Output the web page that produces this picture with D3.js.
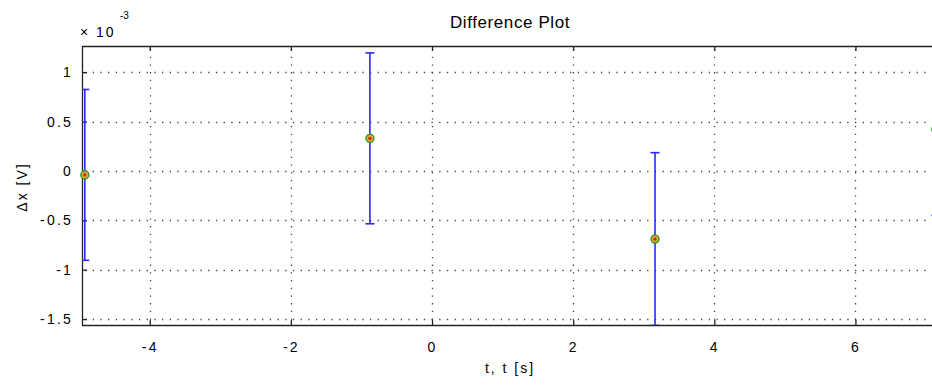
<!DOCTYPE html>
<html>
<head>
<meta charset="utf-8">
<script src="https://cdn.jsdelivr.net/npm/d3@7"></script>
<style>
  body { margin: 0; background: #fff; }
  svg text { font-family: "Liberation Sans", Arial, sans-serif; fill: #000; }
</style>
</head>
<body>
<div id="chart"></div>
<script>
// Difference plot data (y in units of 1e-3 V)
const tValues = [-4.92, -0.88, 3.16, 7.14];
const dxValues = [-0.04, 0.33, -0.69, 0.42];
const errValues = [0.865, 0.865, 0.875, 0.87];
const xTicks = [-4, -2, 0, 2, 4, 6];
const yTicks = [-1.5, -1, -0.5, 0, 0.5, 1];

const points = tValues.map((t, i) => ({ t: t, dx: dxValues[i], err: errValues[i] }));

const width = 932;
const height = 388;
const margin = { top: 46, right: -6, bottom: 63, left: 82 };
const plotW = width - margin.left - margin.right;
const plotH = height - margin.top - margin.bottom;
const font = "'Liberation Sans', Arial, sans-serif";

const svg = d3.select("#chart")
    .append("svg")
    .attr("width", width)
    .attr("height", height);

const xScale = d3.scaleLinear()
    .domain([-4.96, 7.17])
    .range([margin.left, margin.left + plotW]);

const yScale = d3.scaleLinear()
    .domain([-1.56, 1.265])
    .range([margin.top + plotH, margin.top]);

svg.append("defs").append("clipPath")
    .attr("id", "clip")
    .append("rect")
    .attr("x", margin.left)
    .attr("y", margin.top)
    .attr("width", plotW)
    .attr("height", plotH);

// grid
const grid = svg.append("g");
grid.selectAll("line.gx")
    .data(xTicks)
    .enter()
    .append("line")
    .attr("x1", d => Math.round(xScale(d)) + 0.5)
    .attr("x2", d => Math.round(xScale(d)) + 0.5)
    .attr("y1", margin.top + 3)
    .attr("y2", margin.top + plotH)
    .attr("stroke", "#444")
    .attr("stroke-width", 1.3)
    .attr("stroke-dasharray", "1.3,6.4");
grid.selectAll("line.gy")
    .data(yTicks)
    .enter()
    .append("line")
    .attr("y1", d => Math.round(yScale(d)) + 0.5)
    .attr("y2", d => Math.round(yScale(d)) + 0.5)
    .attr("x1", margin.left + 3)
    .attr("x2", margin.left + plotW)
    .attr("stroke", "#444")
    .attr("stroke-width", 1.3)
    .attr("stroke-dasharray", "1.3,6.4");

// axes (MATLAB style: ticks inward, on both sides)
const bottom = margin.top + plotH;
svg.append("g")
    .attr("transform", `translate(0, ${bottom})`)
    .call(d3.axisBottom(xScale).tickValues(xTicks).tickSize(-5).tickPadding(17).tickFormat(d3.format("d")))
    .call(g => g.select(".domain").remove());
svg.append("g")
    .attr("transform", `translate(0, ${margin.top})`)
    .call(d3.axisTop(xScale).tickValues(xTicks).tickSize(-5).tickFormat(""))
    .call(g => g.select(".domain").remove());
svg.append("g")
    .attr("transform", `translate(${margin.left}, 0)`)
    .call(d3.axisLeft(yScale).tickValues(yTicks).tickSize(-5).tickPadding(9).tickFormat(d => d3.format("")(d)))
    .call(g => g.select(".domain").remove());

svg.selectAll(".tick line").attr("stroke", "#222").attr("stroke-width", 1.3);
svg.selectAll(".tick text")
    .style("font-family", font)
    .style("font-size", "14px")
    .style("letter-spacing", "2.2px")
    .attr("fill", "#000")
    .text(function() { return d3.select(this).text().replace("−", "-"); });

svg.append("line")
    .attr("x1", margin.left).attr("x2", margin.left + plotW)
    .attr("y1", margin.top + 0.5).attr("y2", margin.top + 0.5)
    .attr("stroke", "#222").attr("stroke-width", 1.3);
svg.append("line")
    .attr("x1", margin.left).attr("x2", margin.left + plotW)
    .attr("y1", bottom + 0.5).attr("y2", bottom + 0.5)
    .attr("stroke", "#222").attr("stroke-width", 1.3);
svg.append("line")
    .attr("x1", margin.left + 0.5).attr("x2", margin.left + 0.5)
    .attr("y1", margin.top).attr("y2", bottom + 1)
    .attr("stroke", "#222").attr("stroke-width", 1.3);

// error bars
const blue = "#2a2aff";
const bars = svg.append("g").attr("clip-path", "url(#clip)");
bars.selectAll("line.err")
    .data(points)
    .enter()
    .append("line")
    .attr("x1", d => xScale(d.t))
    .attr("x2", d => xScale(d.t))
    .attr("y1", d => yScale(d.dx + d.err))
    .attr("y2", d => yScale(d.dx - d.err))
    .attr("stroke", blue)
    .attr("stroke-width", 1.6);
bars.selectAll("line.capTop")
    .data(points)
    .enter()
    .append("line")
    .attr("x1", d => xScale(d.t) - 4.5)
    .attr("x2", d => xScale(d.t) + 4.5)
    .attr("y1", d => yScale(d.dx + d.err))
    .attr("y2", d => yScale(d.dx + d.err))
    .attr("stroke", blue)
    .attr("stroke-width", 1.6);
bars.selectAll("line.capBot")
    .data(points)
    .enter()
    .append("line")
    .attr("x1", d => xScale(d.t) - 4.5)
    .attr("x2", d => xScale(d.t) + 4.5)
    .attr("y1", d => yScale(d.dx - d.err))
    .attr("y2", d => yScale(d.dx - d.err))
    .attr("stroke", blue)
    .attr("stroke-width", 1.6);

// markers
svg.append("g")
    .selectAll("circle.m")
    .data(points)
    .enter()
    .append("circle")
    .attr("cx", d => xScale(d.t))
    .attr("cy", d => yScale(d.dx))
    .attr("r", 4)
    .attr("fill", "#f0a030")
    .attr("stroke", "#22a022")
    .attr("stroke-width", 1.4);
svg.append("g")
    .selectAll("circle.c")
    .data(points)
    .enter()
    .append("circle")
    .attr("cx", d => xScale(d.t))
    .attr("cy", d => yScale(d.dx))
    .attr("r", 1.6)
    .attr("fill", "#d02020");

// titles
svg.append("text")
    .attr("x", 510)
    .attr("y", 28)
    .attr("text-anchor", "middle")
    .style("font-size", "17px")
    .style("letter-spacing", "0.6px")
    .text("Difference Plot");
svg.append("text")
    .attr("x", 510)
    .attr("y", 373)
    .attr("text-anchor", "middle")
    .style("font-size", "14px")
    .style("letter-spacing", "2px")
    .text("t, t [s]");
svg.append("text")
    .attr("transform", "translate(27, 187) rotate(-90)")
    .attr("text-anchor", "middle")
    .style("font-size", "14px")
    .style("letter-spacing", "2px")
    .text("Δx [V]");
svg.append("text")
    .attr("x", 80)
    .attr("y", 37)
    .style("font-size", "14px")
    .style("letter-spacing", "2px")
    .text("× 10");
svg.append("text")
    .attr("x", 120)
    .attr("y", 19)
    .style("font-size", "10px")
    .text("-3");
</script>
</body>
</html>
